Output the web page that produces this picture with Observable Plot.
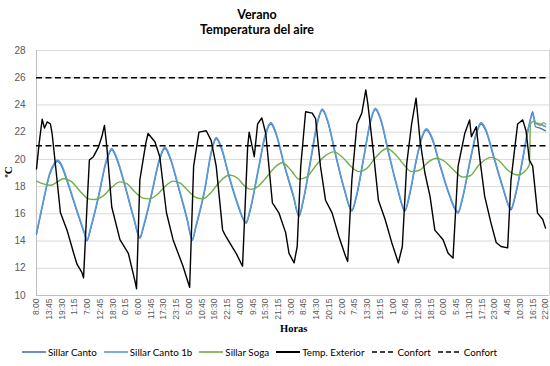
<!DOCTYPE html>
<html><head><meta charset="utf-8">
<script src="https://cdn.jsdelivr.net/npm/d3@7"></script>
<script src="https://cdn.jsdelivr.net/npm/@observablehq/plot@0.6"></script>
<style>
body{margin:0;background:#fff;width:550px;height:366px;overflow:hidden;position:relative;font-family:Lato,sans-serif}
#title{position:absolute;left:0;top:7px;width:514px;text-align:center;font-weight:bold;font-size:12.5px;line-height:15px;color:#000}
#chart{position:absolute;left:0;top:40px}
#ylab{position:absolute;left:2px;top:166px;transform:rotate(-90deg);transform-origin:center;font-family:"Liberation Serif",serif;font-weight:bold;font-size:11px;color:#000}
#xlab{position:absolute;left:280px;top:323px;font-family:"Liberation Serif",serif;font-weight:bold;font-size:10.5px;color:#000}
#legend{position:absolute;top:346px;left:22px;display:flex;align-items:center;font-size:9.8px;color:#000;white-space:nowrap}
#legend .it{display:flex;align-items:center;margin-right:7px}
#legend svg{margin-right:2px}
</style></head>
<body>
<div id="title">Verano<br>Temperatura del aire</div>
<div id="chart"></div>
<div id="ylab">ºC</div>
<div id="xlab">Horas</div>
<div id="legend"></div>
<script>
// Hours elapsed since 8:00 on day 1 (15-min records), values in ºC
const extHours = [0,1.2,2.56,3.6,4.8,6.3,7.05,8.5,10.8,13.8,16.8,18.3,20.5,21.25,22.8,23.9,25.7,28.0,29.5,30.7,31.8,34.0,37.7,41.5,44.5,45.2,46.7,49.4,50.4,53.5,55.7,58.7,61.7,66.2,69.2,71.0,73.4,76.7,78.9,81.2,84.1,85.7,90.2,93.1,95.4,96.1,98.4,99.9,101.8,103.6,106.6,109.6,112.6,114.1,116.4,117.8,119.4,121.6,124.6,126.1,128.3,130.6,133.6,136.6,139.6,140.6,142.5,144.8,147.0,148.8,149.7,152.3,154.5,157.5,160.5,163.5,165.3,167.3,169.5,171.5,173.3,175.5,177.8,180.0,183.7,186.0,188.2,190.5,193.5,195.7,196.5,198.7,200.2,202.5,205.4,207.7,209.9,212.9,214.4,217.4,219.7,221.2,222.7,224.2,226.4,228.7,230];
const extTemp  = [19.3,21.2,22.95,22.3,22.75,22.6,21.9,19.7,16.1,14.8,13.1,12.3,11.7,11.3,16.5,19.95,20.2,20.9,21.66,22.5,20.9,16.5,14.1,13.1,11.05,10.5,18.5,21.2,21.9,21.3,20.2,16.1,14.1,12.15,10.6,19.5,22.0,22.1,21.4,19.5,14.8,14.3,13.1,12.15,20.9,22.0,20.2,22.6,23.05,21.9,16.8,16.05,14.6,13.1,12.4,13.6,19.5,23.5,23.4,23.0,19.5,17.0,16.05,14.35,12.9,12.5,18.5,22.6,23.4,25.1,24.1,20.4,17.0,15.6,13.9,12.4,13.6,19.7,22.6,24.5,21.4,19.0,17.3,14.8,14.1,13.1,12.75,19.5,21.9,22.9,21.66,22.4,20.2,17.3,15.3,13.9,13.6,13.5,18.5,22.6,22.9,22.1,19.95,19.5,16.05,15.6,14.95];

const cantoHours = [0,3,6,8,9.5,11,14,18,21.5,22.8,24.5,28,31.5,34,36.5,40,44,46.7,48.5,52,55.5,58,60.5,64,68,70.4,72,76,79,81.2,83.5,87,91,94.7,96.5,100,103.5,105.9,108.3,112,116,118.6,120.5,124,127,129.1,131.5,135,139,142.5,144.5,148,151,153.1,155.5,159,163,166.5,168.5,171.5,174,176.2,178.5,182,186,190.5,192.5,196,199,200.9,203,206.5,210.5,214.4,216.5,219.5,222.5,224.2,225.5,227.5,230];
const cantoTemp  = [14.5,16.8,18.9,19.6,19.85,19.6,18.3,16.3,14.6,14.0,14.9,17.2,19.8,20.7,19.9,18.0,15.6,14.2,15.1,17.4,19.9,20.8,20.0,18.0,15.6,14.05,15.0,17.7,20.5,21.5,20.8,18.7,16.6,15.3,16.2,19.0,21.8,22.6,21.8,19.5,17.3,15.8,16.9,20.0,22.7,23.6,22.8,20.4,17.8,16.2,17.2,20.2,22.8,23.65,22.9,20.5,17.9,16.2,17.3,19.8,21.5,22.15,21.6,19.7,17.6,16.05,17.1,19.9,22.0,22.6,22.1,20.2,18.0,16.3,17.4,19.8,22.4,23.5,22.4,22.3,22.1];

const canto1bHours = [0,3,6,8,9.5,11,14,18,21.5,22.8,24.5,28,31.5,34,36.5,40,44,46.7,48.5,52,55.5,58,60.5,64,68,70.4,72,76,79,81.2,83.5,87,91,94.7,96.5,100,103.5,105.9,108.3,112,116,118.6,120.5,124,127,129.1,131.5,135,139,142.5,144.5,148,151,153.1,155.5,159,163,166.5,168.5,171.5,174,176.2,178.5,182,186,190.5,192.5,196,199,200.9,203,206.5,210.5,214.4,216.5,219.5,222.5,224.2,225.5,227.5,230];
const canto1bTemp  = [14.6,16.9,19.0,19.7,19.95,19.7,18.4,16.4,14.7,14.1,15.0,17.3,19.9,20.8,20.0,18.1,15.7,14.3,15.2,17.5,20.0,20.9,20.1,18.1,15.7,14.15,15.1,17.8,20.6,21.6,20.9,18.8,16.7,15.4,16.3,19.1,21.9,22.7,21.9,19.6,17.4,15.9,17.0,20.1,22.8,23.7,22.9,20.5,17.9,16.3,17.3,20.3,22.9,23.75,23.0,20.6,18.0,16.3,17.4,19.9,21.6,22.25,21.7,19.8,17.7,16.15,17.2,20.0,22.1,22.7,22.2,20.3,18.1,16.4,17.5,19.9,22.5,23.3,22.7,22.6,22.4];

const sogaHours = [0,3,6.5,9.5,12.3,15.5,19.5,23.5,26.5,30,34,37.7,41,44.5,48.2,51,54.5,58,61.7,65,68.5,72,75.2,78.5,82.5,87.2,91,94,96.9,100,103,107,111.1,115,118.6,122,126,130,134.3,138,142,145.6,149,153,158.3,162,166,169.5,173,177,180.7,184,188,192.7,196,200,205.4,209,213,217.4,220.5,222.7,223.2,224.5,226,227.5,229,230];
const sogaTemp  = [18.4,18.2,18.1,18.35,18.6,18.4,17.7,17.1,17.05,17.3,17.95,18.35,18.2,17.6,17.15,17.1,17.4,18.0,18.4,18.25,17.7,17.2,17.1,17.5,18.3,18.85,18.6,18.05,17.8,18.0,18.5,19.3,19.75,19.2,18.55,18.7,19.5,20.2,20.55,20.2,19.5,19.1,19.3,20.1,20.8,20.4,19.6,19.1,19.2,19.8,20.08,19.9,19.3,18.7,18.8,19.6,20.15,19.9,19.2,18.85,19.1,19.6,22.6,22.8,22.6,22.5,22.7,22.6];

const confortValues = [26, 21];

const xTickHours = [0,5.75,11.5,17.25,23,28.75,34.5,40.25,46,51.75,57.5,63.25,69,74.75,80.5,86.25,92,97.75,103.5,109.25,115,120.75,126.5,132.25,138,143.75,149.5,155.25,161,166.75,172.5,178.25,184,189.75,195.5,201.25,207,212.75,218.5,224.25,230];
const xTickLabels = ["8:00","13:45","19:30","1:15","7:00","12:45","18:30","0:15","6:00","11:45","17:30","23:15","5:00","10:45","16:30","22:15","4:00","9:45","15:30","21:15","3:00","8:45","14:30","20:15","2:00","7:45","13:30","19:15","1:00","6:45","12:30","18:15","0:00","5:45","11:30","17:15","23:00","4:45","10:30","16:15","22:00"];
const yTicks = [10,12,14,16,18,20,22,24,26,28];

const seriesNames = ["Sillar Canto","Sillar Canto 1b","Sillar Soga","Temp. Exterior","Confort","Confort"];
const seriesColors = ["#4472c4","#5b9bd5","#70ad47","#000000","#000000","#000000"];

const pts = (h, v) => h.map((x, i) => ({h: x, t: v[i]}));

const chart = Plot.plot({
  width: 550, height: 302,
  marginTop: 10, marginLeft: 36, marginRight: 1, marginBottom: 47,
  style: {background: "white", color: "#595959"},
  x: {domain: [0, 231.8]},
  y: {domain: [10, 28]},
  marks: [
    Plot.gridY(yTicks, {stroke: "#d9d9d9", strokeOpacity: 1}),
    Plot.ruleX([0], {stroke: "#bfbfbf"}),
    Plot.ruleX([231.8], {stroke: "#d9d9d9"}),
    Plot.ruleY([10], {stroke: "#bfbfbf"}),
    Plot.axisY(yTicks, {tickSize: 0, tickPadding: 11, fontSize: 10, fontFamily: "Liberation Sans", fill: "#595959", label: null}),
    Plot.axisX(xTickHours, {tickSize: 0, tickPadding: 3, tickRotate: -90, fontSize: 8.5, fontFamily: "Liberation Sans", fill: "#595959", label: null, tickFormat: (d, i) => xTickLabels[i]}),
    Plot.line(pts(cantoHours, cantoTemp), {x: "h", y: "t", stroke: seriesColors[0], strokeWidth: 1.3, curve: "monotone-x"}),
    Plot.line(pts(canto1bHours, canto1bTemp), {x: "h", y: "t", stroke: seriesColors[1], strokeWidth: 1.6, curve: "monotone-x"}),
    Plot.line(pts(sogaHours, sogaTemp), {x: "h", y: "t", stroke: seriesColors[2], strokeWidth: 1.4, curve: "monotone-x"}),
    Plot.line(pts(extHours, extTemp), {x: "h", y: "t", stroke: seriesColors[3], strokeWidth: 1.4}),
    Plot.ruleY(confortValues, {stroke: "#000", strokeWidth: 1.5, strokeDasharray: "6,3.5"})
  ]
});
document.getElementById("chart").appendChild(chart);

const leg = document.getElementById("legend");
seriesNames.forEach((n, i) => {
  const it = document.createElement("div");
  it.className = "it";
  const dash = n === "Confort" ? ' stroke-dasharray="5,3"' : "";
  const sw = i === 3 ? 2 : 1.6;
  it.innerHTML = `<svg width="24" height="6"><line x1="0" y1="3" x2="24" y2="3" stroke="${seriesColors[i]}" stroke-width="${sw}"${dash}/></svg><span>${n}</span>`;
  leg.appendChild(it);
});
</script>
</body></html>
